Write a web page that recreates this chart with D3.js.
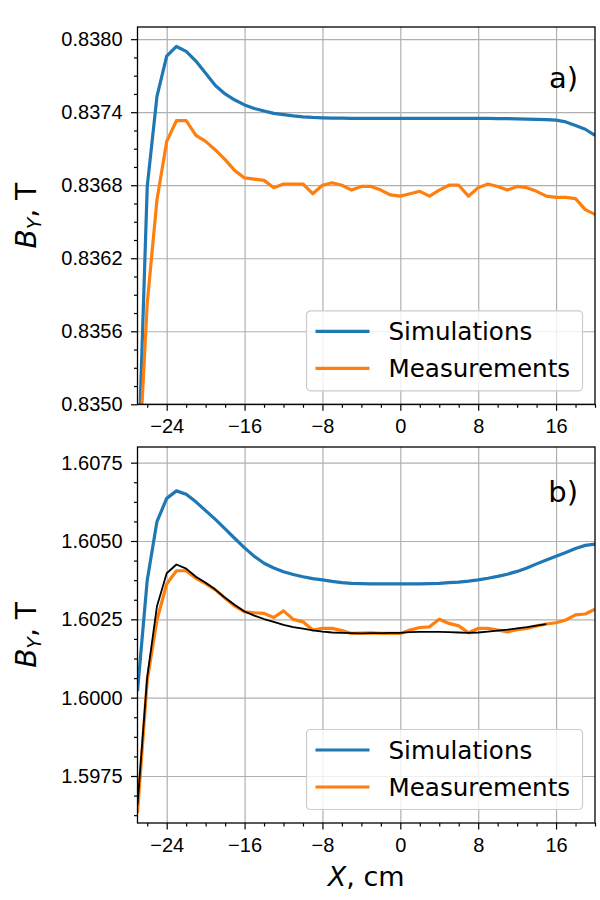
<!DOCTYPE html>
<html>
<head>
<meta charset="utf-8">
<script src="https://cdn.jsdelivr.net/npm/d3@7"></script>
<style>
  body { margin: 0; background: #fff; }
  svg { font-family: "DejaVu Sans", sans-serif; }
  .grid line { stroke: #b0b0b0; stroke-width: 1.2px; }
  .grid path { display: none; }
  .axis path { display: none; }
  .axis line { stroke: #000; stroke-width: 1.2px; }
  .axis text { font-size: 20px; fill: #000; }
</style>
</head>
<body>
<svg width="600" height="900"></svg>
<script>
// X positions, cm
var xPos = [-27, -26, -25, -24, -23, -22, -21, -20, -19, -18, -17, -16, -15, -14, -13, -12,
  -11, -10, -9, -8, -7, -6, -5, -4, -3, -2, -1, 0, 1, 2, 3, 4, 5, 6, 7, 8, 9, 10,
  11, 12, 13, 14, 15, 16, 17, 18, 19, 20];
// X positions of the black curve in b)
var xFit = [-27, -26, -25, -24, -23, -22, -21, -20, -19, -18, -17, -16, -15, -14, -13, -12,
  -11, -10, -9, -8, -7, -6, -5, -4, -3, -2, -1, 0, 1, 2, 3, 4, 5, 6, 7, 8, 9, 10,
  11, 12, 13, 14, 15];

// panel a)
var simA = [0.83430, 0.83679, 0.83753, 0.83786, 0.83794, 0.83790, 0.83782, 0.83772, 0.83762, 0.83755,
  0.83750, 0.83746, 0.83743, 0.83741, 0.83739, 0.83738, 0.83737, 0.837362, 0.837357, 0.837354,
  0.837352, 0.837351, 0.83735, 0.83735, 0.83735, 0.83735, 0.83735, 0.83735, 0.83735, 0.83735,
  0.83735, 0.83735, 0.83735, 0.83735, 0.83735, 0.83735, 0.837349, 0.837348, 0.837347, 0.837345,
  0.837343, 0.837341, 0.837339, 0.837335, 0.83732, 0.83729, 0.83726, 0.83721];
var measA = [0.83429, 0.83583, 0.83668, 0.83716, 0.83733, 0.83733, 0.83721, 0.83716, 0.83709, 0.83701,
  0.83692, 0.83686, 0.83685, 0.83684, 0.83678, 0.83681, 0.83681, 0.83681, 0.83673, 0.83680,
  0.83682, 0.83680, 0.83676, 0.83679, 0.83679, 0.83676, 0.83672, 0.83671, 0.83673, 0.83675,
  0.83671, 0.83676, 0.83680, 0.83680, 0.83671, 0.83678, 0.83681, 0.83679, 0.83676, 0.83679,
  0.83678, 0.83675, 0.83671, 0.83670, 0.83670, 0.83669, 0.83660, 0.83656];

// panel b)
var simB = [1.60021, 1.60375, 1.60562, 1.60636, 1.60660, 1.60649, 1.60625, 1.60597, 1.60569, 1.60539,
  1.60508, 1.60478, 1.60451, 1.60429, 1.60414, 1.60402, 1.60393, 1.60386, 1.60380, 1.60376,
  1.60371, 1.60367, 1.60365, 1.60364, 1.60363, 1.60363, 1.60363, 1.60363, 1.60363, 1.60363,
  1.60364, 1.60365, 1.60367, 1.60369, 1.60372, 1.60376, 1.60381, 1.60387, 1.60394, 1.60403,
  1.60414, 1.60427, 1.60439, 1.60451, 1.60463, 1.60476, 1.60486, 1.60490];
var measB = [1.59632, 1.60056, 1.60248, 1.60363, 1.60405, 1.60405, 1.60381, 1.60364, 1.60344, 1.60317,
  1.60292, 1.60274, 1.60271, 1.60269, 1.60256, 1.60277, 1.60250, 1.60242, 1.60216, 1.60221,
  1.60221, 1.60214, 1.60205, 1.60206, 1.60207, 1.60205, 1.60205, 1.60205, 1.60216, 1.60224,
  1.60226, 1.60250, 1.60237, 1.60229, 1.60207, 1.60221, 1.60221, 1.60216, 1.60210, 1.60217,
  1.60221, 1.60229, 1.60235, 1.60239, 1.60248, 1.60264, 1.60267, 1.60282];
var fitB = [1.59657, 1.60066, 1.60292, 1.60397, 1.60425, 1.60412, 1.60386, 1.60367, 1.60345, 1.60319,
  1.60296, 1.60275, 1.60262, 1.60251, 1.60242, 1.60232, 1.60225, 1.60220, 1.60215, 1.60211,
  1.60208, 1.60207, 1.60206, 1.60205, 1.60206, 1.60206, 1.60207, 1.60207, 1.60209, 1.60210,
  1.60210, 1.60210, 1.60209, 1.60208, 1.60207, 1.60208, 1.60211, 1.60214, 1.60217, 1.60221,
  1.60225, 1.60230, 1.60235];

// tick labels
var xTicks = [-24, -16, -8, 0, 8, 16];
var yTicksA = [0.8350, 0.8356, 0.8362, 0.8368, 0.8374, 0.8380];
var yTicksB = [1.5975, 1.6000, 1.6025, 1.6050, 1.6075];
var seriesNames = ["Simulations", "Measurements"];

var colors = { sim: "#1f77b4", meas: "#ff7f0e", fit: "#000" };
var left = 137.5, right = 595;

var svg = d3.select("svg");

var xScale = d3.scaleLinear().domain([-27, 20]).range([left, right]);
var xMinor = d3.range(-26, 20.01, 2).filter(function(v) { return xTicks.indexOf(v) < 0; });

function zip(xs, ys) {
  return xs.map(function(x, i) { return [x, ys[i]]; });
}

function drawPanel(p, idx) {
  var yScale = d3.scaleLinear().domain(p.yDomain).range([p.bottom, p.top]);
  var h = p.bottom - p.top;
  var g = svg.append("g");

  // grid
  g.append("g").attr("class", "grid")
    .attr("transform", "translate(0," + p.bottom + ")")
    .call(d3.axisBottom(xScale).tickValues(xTicks).tickSize(-h).tickFormat(""));
  g.append("g").attr("class", "grid")
    .attr("transform", "translate(" + left + ",0)")
    .call(d3.axisLeft(yScale).tickValues(p.yTicks).tickSize(-(right - left)).tickFormat(""));

  // curves
  g.append("clipPath").attr("id", "clip" + idx)
    .append("rect").attr("x", left).attr("y", p.top)
    .attr("width", right - left).attr("height", h);

  var line = d3.line()
    .x(function(d) { return xScale(d[0]); })
    .y(function(d) { return yScale(d[1]); });

  var curves = g.append("g").attr("clip-path", "url(#clip" + idx + ")");
  p.series.forEach(function(s) {
    curves.append("path")
      .attr("d", line(zip(s.x, s.y)))
      .attr("fill", "none")
      .attr("stroke", s.color)
      .attr("stroke-width", s.width)
      .attr("stroke-linejoin", "round");
  });

  // axes
  g.append("g").attr("class", "axis")
    .attr("transform", "translate(0," + p.bottom + ")")
    .call(d3.axisBottom(xScale).tickValues(xTicks).tickSize(6.5).tickPadding(8.5)
      .tickFormat(d3.format("d")));
  g.append("g").attr("class", "axis")
    .attr("transform", "translate(0," + p.bottom + ")")
    .call(d3.axisBottom(xScale).tickValues(xMinor).tickSize(3.5).tickFormat(""));
  g.append("g").attr("class", "axis")
    .attr("transform", "translate(" + left + ",0)")
    .call(d3.axisLeft(yScale).tickValues(p.yTicks).tickSize(6.5).tickPadding(8.5)
      .tickFormat(d3.format(".4f")));
  g.append("g").attr("class", "axis")
    .attr("transform", "translate(" + left + ",0)")
    .call(d3.axisLeft(yScale).tickValues(p.yMinor).tickSize(3.5).tickFormat(""));

  g.append("rect")
    .attr("x", left).attr("y", p.top)
    .attr("width", right - left).attr("height", h)
    .attr("fill", "none").attr("stroke", "#000").attr("stroke-width", 1.3);

  // y label
  var yl = g.append("text")
    .attr("transform", "translate(36," + (p.top + h / 2) + ") rotate(-90)")
    .attr("text-anchor", "middle")
    .style("font-size", "28px");
  yl.append("tspan").attr("font-style", "italic").text("B");
  yl.append("tspan").attr("font-style", "italic").attr("dy", 5).style("font-size", "19px").text("Y");
  yl.append("tspan").attr("dy", -5).text(", T");

  // panel letter
  g.append("text")
    .attr("x", 578).attr("y", p.top + p.letterY)
    .attr("text-anchor", "end")
    .style("font-size", "29px")
    .text(p.letter);

  // legend
  var lg = g.append("g").attr("transform", "translate(306.5," + (p.bottom - 93.5) + ")");
  lg.append("rect")
    .attr("width", 276).attr("height", 80).attr("rx", 4)
    .attr("fill", "#fff").attr("fill-opacity", 0.8)
    .attr("stroke", "#cccccc").attr("stroke-width", 1.2);
  [colors.sim, colors.meas].forEach(function(c, i) {
    var yy = 20.5 + i * 37;
    lg.append("line")
      .attr("x1", 9).attr("x2", 63).attr("y1", yy).attr("y2", yy)
      .attr("stroke", c).attr("stroke-width", 3.2);
    lg.append("text")
      .attr("x", 82).attr("y", yy).attr("dy", "0.36em")
      .style("font-size", "24.6px")
      .text(seriesNames[i]);
  });
}

var panels = [
  {
    top: 27, bottom: 404.3, yDomain: [0.8350, 0.8381],
    yTicks: yTicksA,
    yMinor: d3.range(0.83515, 0.8381, 0.00015).filter(function(v, i) { return (i + 1) % 4 !== 0; }),
    letter: "a)", letterY: 61,
    series: [
      { x: xPos, y: simA, color: colors.sim, width: 3.2 },
      { x: xPos, y: measA, color: colors.meas, width: 3.2 }
    ]
  },
  {
    top: 447, bottom: 823, yDomain: [1.596, 1.608],
    yTicks: yTicksB,
    yMinor: d3.range(1.59625, 1.608, 0.000625).filter(function(v, i) { return (i - 2) % 4 !== 0 || i < 2; }),
    letter: "b)", letterY: 55,
    series: [
      { x: xPos, y: simB, color: colors.sim, width: 3.2 },
      { x: xPos, y: measB, color: colors.meas, width: 3.2 },
      { x: xFit, y: fitB, color: colors.fit, width: 1.8 }
    ]
  }
];

panels.forEach(drawPanel);

// x label under the lower panel
var xl = svg.append("text")
  .attr("x", (left + right) / 2).attr("y", 886)
  .attr("text-anchor", "middle")
  .style("font-size", "27px");
xl.append("tspan").attr("font-style", "italic").text("X");
xl.append("tspan").text(", cm");
</script>
</body>
</html>
